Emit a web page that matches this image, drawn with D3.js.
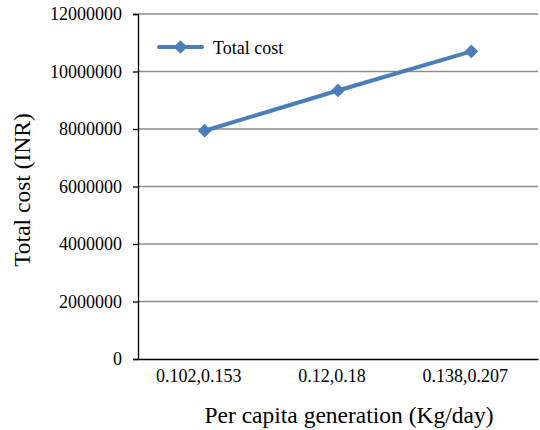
<!DOCTYPE html>
<html>
<head>
<meta charset="utf-8">
<script src="https://cdn.jsdelivr.net/npm/d3@7"></script>
<style>
  html, body { margin: 0; padding: 0; background: #fff; }
</style>
</head>
<body>
<svg id="chart" width="540" height="430"></svg>
<script>
// Per capita generation scenarios and the resulting total cost
const categories = ["0.102,0.153", "0.12,0.18", "0.138,0.207"];
const totalCost = [7940000, 9340000, 10700000];
const yTicks = [0, 2000000, 4000000, 6000000, 8000000, 10000000, 12000000];
const seriesName = "Total cost";

const FONT = "'Liberation Serif', 'Times New Roman', Times, serif";
const svg = d3.select("#chart");
const margin = { left: 138, right: 2, top: 14, bottom: 71 };
const W = 540, H = 430;
const color = "#4a7ebb";

const x = d3.scaleBand().domain(categories).range([margin.left, W - margin.right]);
const y = d3.scaleLinear().domain([0, 12000000]).range([H - margin.bottom, margin.top]);

// horizontal gridlines
svg.append("g")
  .selectAll("line")
  .data(yTicks.filter(d => d > 0))
  .join("line")
  .attr("x1", margin.left).attr("x2", W - margin.right)
  .attr("y1", d => y(d)).attr("y2", d => y(d))
  .attr("stroke", "#8c8c8c").attr("stroke-width", 1.3);

// y axis
const yAxis = svg.append("g")
  .attr("transform", `translate(${margin.left},0)`)
  .call(d3.axisLeft(y).tickValues(yTicks).tickFormat(d3.format("d")).tickSizeOuter(0).tickSize(5).tickPadding(11))
  .attr("font-family", FONT).attr("font-size", 18);
yAxis.select(".domain").attr("stroke", "#000").attr("stroke-width", 1.3);
yAxis.selectAll(".tick line").attr("stroke", "#000").attr("stroke-width", 1.3);
yAxis.selectAll(".tick text").attr("fill", "#000");

// x axis
const xAxis = svg.append("g")
  .attr("transform", `translate(0,${y(0)})`)
  .call(d3.axisBottom(x).tickSize(0).tickSizeOuter(0).tickPadding(10))
  .attr("font-family", FONT).attr("font-size", 18);
xAxis.select(".domain").attr("stroke", "#000").attr("stroke-width", 1.3);
xAxis.selectAll(".tick text").attr("fill", "#000").attr("dx", -6);

// series line
const pts = categories.map((c, i) => [x(c) + x.bandwidth() / 2, y(totalCost[i])]);
svg.append("path")
  .attr("d", d3.line()(pts))
  .attr("fill", "none").attr("stroke", color).attr("stroke-width", 4)
  .attr("stroke-linejoin", "round").attr("stroke-linecap", "round");

const diamond = d3.symbol().type(d3.symbolDiamond2).size(120);
svg.append("g")
  .selectAll("path")
  .data(pts)
  .join("path")
  .attr("d", diamond)
  .attr("transform", d => `translate(${d[0]},${d[1]})`)
  .attr("fill", color);

// legend
const lg = svg.append("g").attr("transform", "translate(159,47)");
lg.append("line").attr("x1", 0).attr("x2", 43).attr("y1", 0).attr("y2", 0)
  .attr("stroke", color).attr("stroke-width", 4).attr("stroke-linecap", "round");
lg.append("path").attr("d", diamond).attr("transform", "translate(21.5,0)").attr("fill", color);
lg.append("text").attr("x", 54).attr("y", 6.5)
  .attr("font-family", FONT).attr("font-size", 18).text(seriesName);

// axis titles
svg.append("text")
  .attr("x", 349).attr("y", 423)
  .attr("text-anchor", "middle").attr("font-family", FONT).attr("font-size", 23.5)
  .text("Per capita generation (Kg/day)");
svg.append("text")
  .attr("transform", "translate(30,190) rotate(-90)")
  .attr("text-anchor", "middle").attr("font-family", FONT).attr("font-size", 23.5)
  .text("Total cost (INR)");
</script>
</body>
</html>
